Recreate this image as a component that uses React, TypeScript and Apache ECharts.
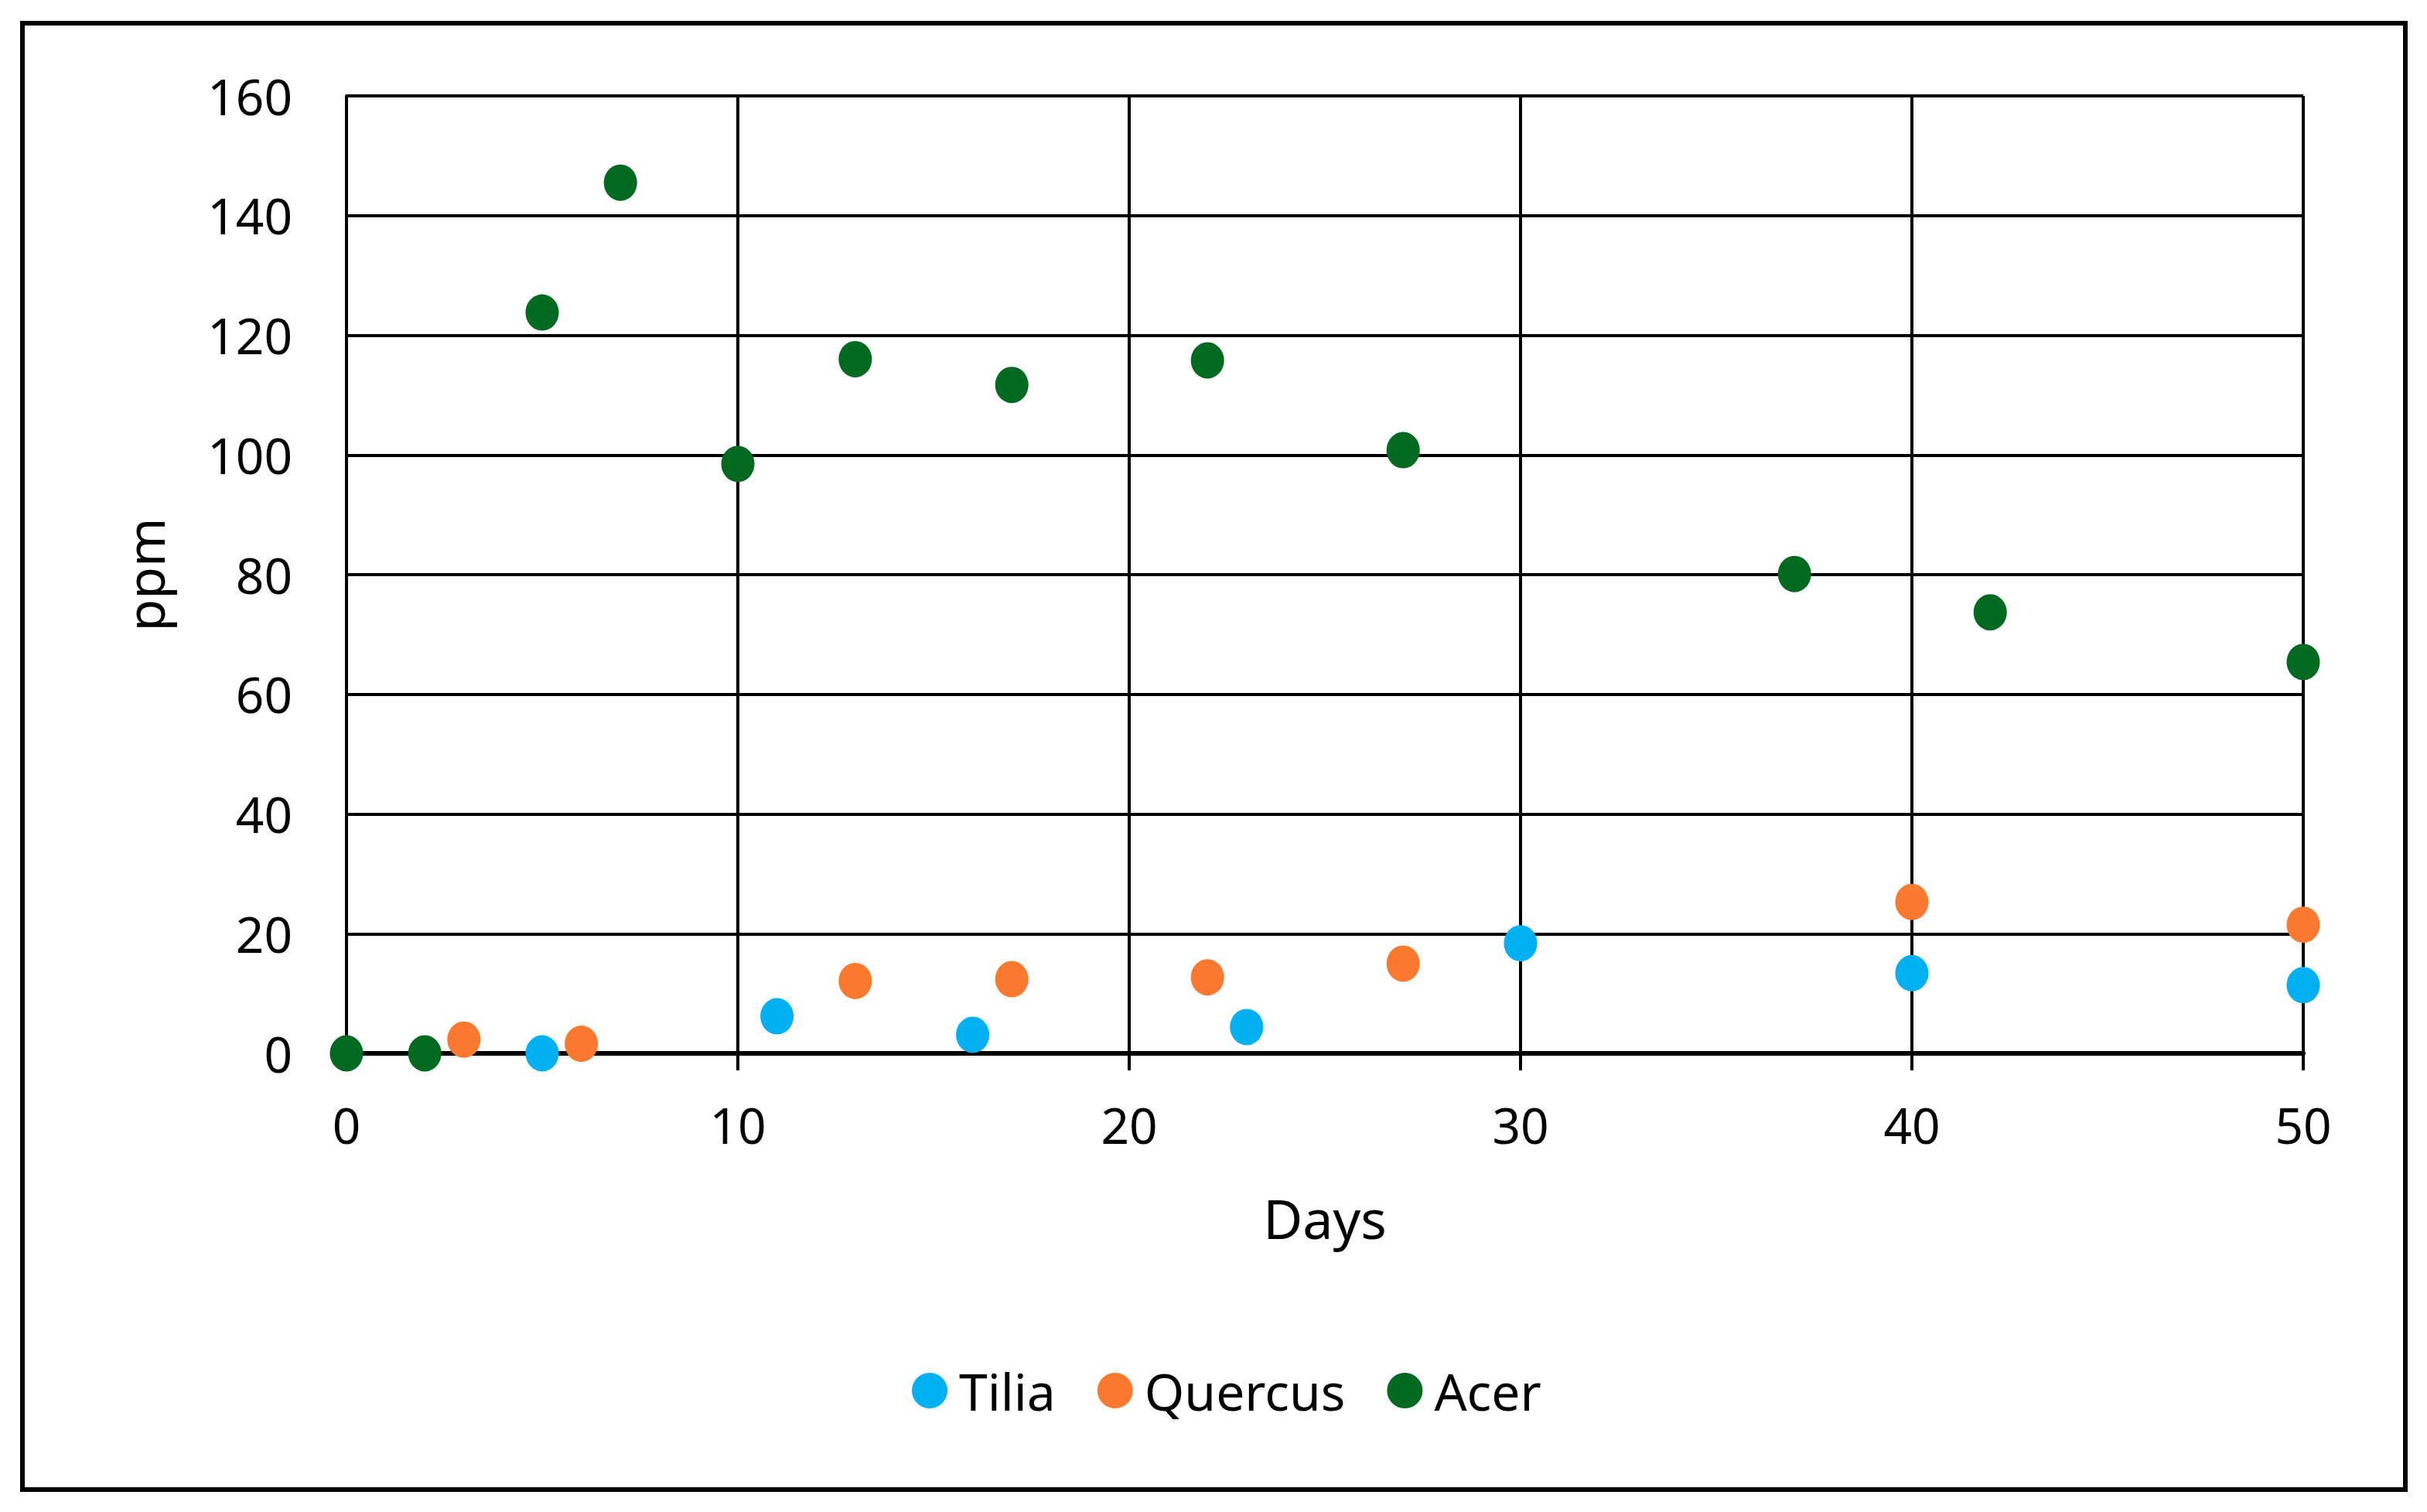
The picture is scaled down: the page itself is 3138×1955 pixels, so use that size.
import React, { useEffect, useRef } from "react";
import * as echarts from "echarts";

const seriesNames = ["Tilia", "Quercus", "Acer"];
const seriesColors = ["#00B0F0", "#FB7A2F", "#006A21"];

const tiliaDays = [5, 11, 16, 23, 30, 40, 50];
const tiliaPpm = [0, 6.2, 3.1, 4.4, 18.4, 13.4, 11.4];

const quercusDays = [3, 6, 13, 17, 22, 27, 40, 50];
const quercusPpm = [2.3, 1.6, 12.1, 12.4, 12.7, 15.0, 25.3, 21.5];

const acerDays = [0, 2, 5, 7, 10, 13, 17, 22, 27, 37, 42, 50];
const acerPpm = [0, 0, 123.8, 145.5, 98.5, 116, 111.7, 115.8, 100.8, 80.1, 73.7, 65.4];

const FONT = "Noto Sans";

function pairs(xs: number[], ys: number[]) {
  return xs.map((x, i) => [x, ys[i]]);
}

export default function App() {
  const ref = useRef<HTMLDivElement>(null);
  useEffect(() => {
    document.body.style.margin = "0";
    const chart = echarts.init(ref.current!, null, { renderer: "svg" });
    const data = [
      pairs(tiliaDays, tiliaPpm),
      pairs(quercusDays, quercusPpm),
      pairs(acerDays, acerPpm),
    ];
    chart.setOption({
      animation: false,
      backgroundColor: "#ffffff",
      textStyle: { fontFamily: FONT, color: "#000" },
      graphic: [
        {
          type: "rect",
          shape: { x: 29, y: 30, width: 3081, height: 1896 },
          style: { fill: "none", stroke: "#000", lineWidth: 6 },
          z: 100,
        },
      ],
      grid: { left: 448, right: 160, top: 124, bottom: 593, containLabel: false },
      xAxis: {
        type: "value",
        min: 0,
        max: 50,
        interval: 10,
        name: "Days",
        nameLocation: "middle",
        nameGap: 178,
        nameTextStyle: { fontSize: 70, color: "#000", fontFamily: FONT },
        axisLine: { show: true, onZero: false, lineStyle: { color: "#000", width: 6 } },
        axisTick: { show: true, inside: false, length: 22, lineStyle: { color: "#000", width: 4 } },
        axisLabel: { fontSize: 64, color: "#000", margin: 60, fontFamily: FONT },
        splitLine: { show: true, lineStyle: { color: "#000", width: 4 } },
        z: 2,
      },
      yAxis: {
        type: "value",
        min: 0,
        max: 160,
        interval: 20,
        name: "ppm",
        nameLocation: "middle",
        nameGap: 228,
        nameRotate: 90,
        nameTextStyle: { fontSize: 68, color: "#000", fontFamily: FONT },
        axisLine: { show: true, lineStyle: { color: "#000", width: 4 } },
        axisTick: { show: false },
        axisLabel: { fontSize: 64, color: "#000", margin: 70, fontFamily: FONT },
        splitLine: { show: true, lineStyle: { color: "#000", width: 4 } },
      },
      legend: {
        show: true,
        left: 1174,
        top: 1760,
        icon: "circle",
        itemWidth: 46,
        itemHeight: 46,
        itemGap: 54,
        data: seriesNames,
        textStyle: { fontSize: 66, color: "#000", fontFamily: FONT, padding: [0, 0, 0, 10] },
      },
      series: seriesNames.map((name, i) => ({
        name,
        type: "scatter",
        data: data[i],
        symbol: "circle",
        symbolSize: [43, 47],
        itemStyle: { color: seriesColors[i], opacity: 1 },
        z: 3 + i,
      })),
    });
    return () => chart.dispose();
  }, []);
  return <div ref={ref} style={{ width: 3138, height: 1955 }} />;
}
